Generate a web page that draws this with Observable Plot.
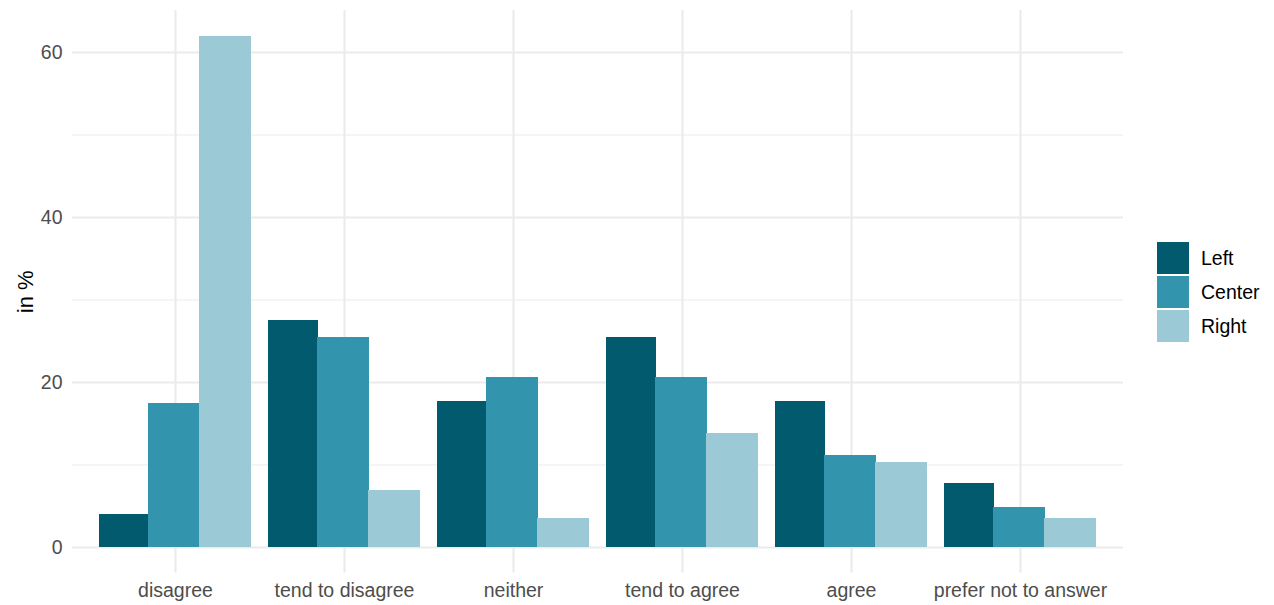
<!DOCTYPE html>
<html>
<head>
<meta charset="utf-8">
<script src="https://cdn.jsdelivr.net/npm/d3@7"></script>
<script src="https://cdn.jsdelivr.net/npm/@observablehq/plot@0.6"></script>
<style>
  html, body { margin: 0; padding: 0; background: #fff; }
  #wrap { position: relative; width: 1274px; height: 605px; font-family: "Liberation Sans", Arial, sans-serif; }
  #legend { position: absolute; left: 1157px; top: 241px; }
  .row { display: flex; align-items: center; height: 34px; }
  .sw { width: 32px; height: 32px; }
  .lab { margin-left: 12px; font-size: 19.5px; color: #000; }
</style>
</head>
<body>
<div id="wrap"><div id="chart"></div><div id="legend"></div></div>
<script>
// ---- data ----
const categories = ["disagree", "tend to disagree", "neither", "tend to agree", "agree", "prefer not to answer"];
const groups = ["Left", "Center", "Right"];
const leftValues   = [4.0, 27.5, 17.7, 25.5, 17.7, 7.8];
const centerValues = [17.5, 25.4, 20.6, 20.6, 11.1, 4.8];
const rightValues  = [62.0, 6.9, 3.5, 13.8, 10.3, 3.5];
const groupColors = ["#025A6E", "#3395AD", "#9CC9D6"];
const yTicks = [0, 20, 40, 60];
const yMinorTicks = [10, 30, 50];
const yLabel = "in %";

const seriesValues = [leftValues, centerValues, rightValues];
const rows = groups.map((g, gi) => categories.map((c, ci) => ({category: c, group: g, value: seriesValues[gi][ci]})));

// ---- layout ----
const W = 1274, H = 605;
const mL = 72, mR = 151, mT = 10, mB = 32.4;
const padInner = 0.1, padOuter = 0.15;
const step = (W - mL - mR) / (categories.length - padInner + 2 * padOuter);
const bw = step * (1 - padInner);
const third = bw / 3;
const overlap = 1.5;
const insets = [[0, 2 * third], [third - overlap, third], [2 * third - overlap, 0]];

const font = "'Liberation Sans', Arial, sans-serif";
const gridColor = "#EBEBEB";

const chart = Plot.plot({
  width: W,
  height: H,
  marginLeft: mL,
  marginRight: mR,
  marginTop: mT,
  marginBottom: mB,
  style: {fontFamily: font, fontSize: "19.5px", color: "#4D4D4D", background: "#fff"},
  x: {domain: categories, paddingInner: padInner, paddingOuter: padOuter, tickSize: 0, tickPadding: 9.6, label: null},
  y: {domain: [-3.1, 65.1], ticks: yTicks, tickSize: 0, tickPadding: 10, label: null},
  marks: [
    Plot.ruleY(yMinorTicks, {stroke: gridColor, strokeWidth: 1.07}),
    Plot.ruleY(yTicks, {stroke: gridColor, strokeWidth: 2.1}),
    Plot.ruleX(categories, {x: d => d, stroke: gridColor, strokeWidth: 2.1}),
    ...rows.map((data, gi) => Plot.barY(data, {
      x: "category", y: "value", fill: groupColors[gi],
      insetLeft: insets[gi][0], insetRight: insets[gi][1],
      shapeRendering: "crispEdges"
    })),
    Plot.text([yLabel], {text: d => d, frameAnchor: "left", rotate: -90, dx: -40, lineAnchor: "bottom", textAnchor: "middle", fill: "#000", fontSize: 22})
  ]
});
document.getElementById("chart").appendChild(chart);

const legend = document.getElementById("legend");
groups.forEach((g, i) => {
  const row = document.createElement("div");
  row.className = "row";
  row.innerHTML = `<div class="sw" style="background:${groupColors[i]}"></div><div class="lab">${g}</div>`;
  legend.appendChild(row);
});
</script>
</body>
</html>
